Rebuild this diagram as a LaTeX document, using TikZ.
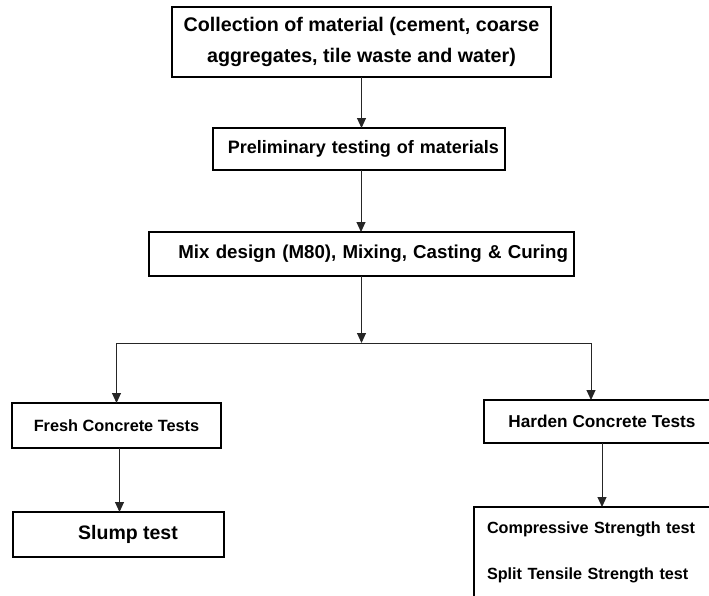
\documentclass[tikz,border=0pt]{standalone}
\usepackage{fontspec}
\setmainfont{Liberation Sans}
\usepackage{tikz}
\usetikzlibrary{shadows, arrows.meta, positioning, calc}

\begin{document}
\begin{tikzpicture}[
    x=1pt, y=-1pt,
    every node/.style={outer sep=0pt, inner sep=3pt},
    block/.style={draw=black, line width=1.6pt, fill=white,
        drop shadow={opacity=1, fill=black, shadow xshift=-1.2pt, shadow yshift=-1.2pt}},
    stepBox/.style={block, align=center},
    rightBox/.style={block, inner xsep=6pt, align=right},
    listBox/.style={block, anchor=north west, inner xsep=13pt, inner ysep=15pt, align=left},
    arrowLine/.style={draw=black!85, line width=1pt, -{Triangle[length=10pt, width=9pt]}}
]
    \useasboundingbox (0,0) rectangle (709,595);

    % Main chain of steps
    \node (coll) [stepBox, minimum width=379pt, minimum height=70pt,
        font=\fontsize{19.7}{31}\selectfont\bfseries] at (361.5,42)
        {Collection of material (cement, coarse\\aggregates, tile waste and water)};
    \node (prelim) [rightBox, text width=280pt, minimum height=42pt,
        font=\fontsize{18}{21}\selectfont\bfseries] at (359,149)
        {Preliminary testing of materials};
    \node (mix) [rightBox, text width=413pt, minimum height=44pt,
        font=\fontsize{18.7}{22}\selectfont\bfseries] at (361.5,254)
        {Mix design (M80), Mixing, Casting \& Curing};

    % Two branches of tests
    \node (fresh) [stepBox, minimum width=209pt, minimum height=45pt,
        font=\fontsize{16.3}{19}\selectfont\bfseries] at (116.5,425.5)
        {Fresh Concrete Tests};
    \node (harden) [stepBox, minimum width=236pt, minimum height=43pt,
        font=\fontsize{17.2}{20}\selectfont\bfseries] at (602,421.5)
        {Harden Concrete Tests};
    \node (slump) [stepBox, minimum width=211pt, minimum height=45pt,
        font=\fontsize{19.5}{22}\selectfont\bfseries] at (118.5,534.5)
        {\hspace*{19pt}Slump test};
    \node (strength) [listBox, text width=230pt,
        font=\fontsize{16.2}{46}\selectfont\bfseries] at (474,507)
        {Compressive Strength test\\Split Tensile Strength test};

    \coordinate (split) at (361.5,343);

    % Connect steps
    \draw [arrowLine] (coll.south) -- (coll.south |- prelim.north);
    \draw [arrowLine] ([xshift=2pt]prelim.south) -- ([xshift=2pt]prelim.south |- mix.north);
    \draw [arrowLine] (mix.south) -- (split);
    \draw [arrowLine] (split) -| (fresh.north);
    \draw [arrowLine] (split) -| ([xshift=-11pt]harden.north);
    \draw [arrowLine] ([xshift=3pt]fresh.south) -- ([xshift=3pt]fresh.south |- slump.north);
    \draw [arrowLine] (harden.south) -- (harden.south |- strength.north);
\end{tikzpicture}
\end{document}
